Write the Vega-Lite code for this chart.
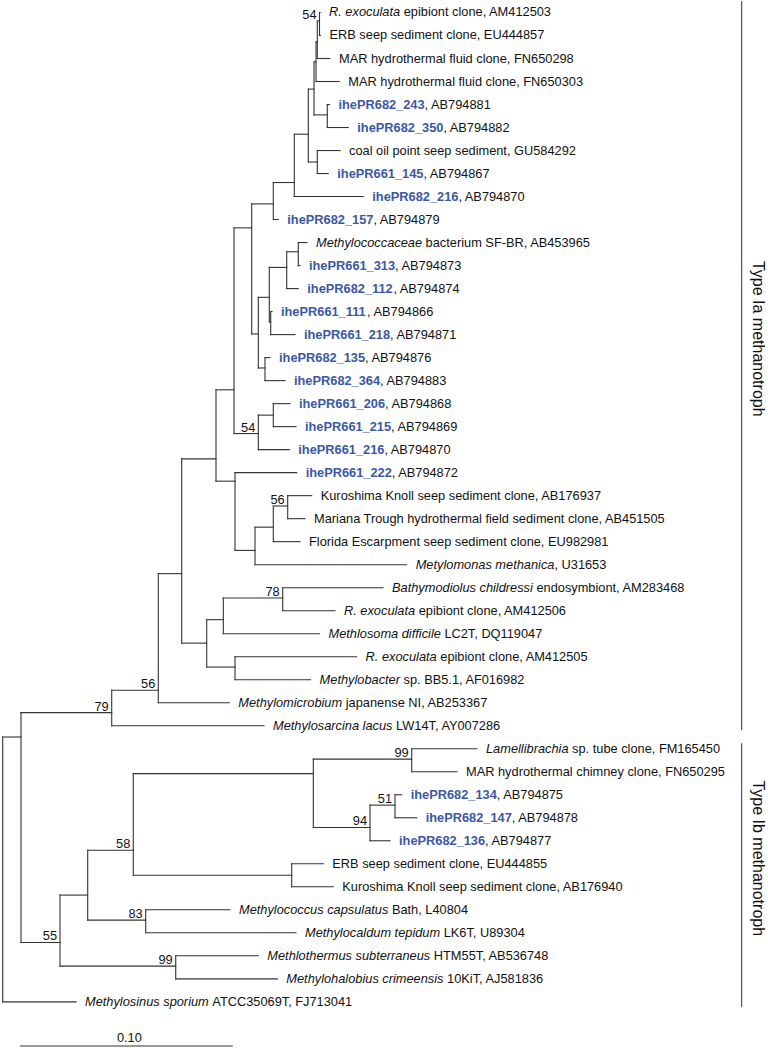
{
"$schema": "https://vega.github.io/schema/vega-lite/v6.json",
"width": 768, "height": 1048,
"autosize": {"type": "fit", "contains": "padding"},
"padding": 0,
"background": "white",
"config": {"view": {"stroke": null}, "text": {"font": "Liberation Sans", "fontSize": 12.8, "color": "#111111"}},
"datasets": {
"tree": [
{"id":"ROOT","parent":null,"x":0,"y":37},
{"id":"L0","parent":"T1","x":0.14918,"y":0,"kind":"italic","a":"R. exoculata","b":"epibiont clone, AM412503"},
{"id":"L1","parent":"T1","x":0.14941,"y":1,"kind":"plain","a":"ERB seep sediment clone, EU444857"},
{"id":"L2","parent":"T2","x":0.15388,"y":2,"kind":"plain","a":"MAR hydrothermal fluid clone, FN650298"},
{"id":"L3","parent":"T3","x":0.15825,"y":3,"kind":"plain","a":"MAR hydrothermal fluid clone, FN650303"},
{"id":"L4","parent":"N243","x":0.15364,"y":4,"kind":"clone","a":"ihePR682_243","b":", AB794881"},
{"id":"L5","parent":"N243","x":0.16248,"y":5,"kind":"clone","a":"ihePR682_350","b":", AB794882"},
{"id":"L6","parent":"Ncoal","x":0.15858,"y":6,"kind":"plain","a":"coal oil point seep sediment, GU584292"},
{"id":"L7","parent":"Ncoal","x":0.15308,"y":7,"kind":"clone","a":"ihePR661_145","b":", AB794867"},
{"id":"L8","parent":"N216","x":0.16954,"y":8,"kind":"clone","a":"ihePR682_216","b":", AB794870"},
{"id":"L9","parent":"N157","x":0.12957,"y":9,"kind":"clone","a":"ihePR682_157","b":", AB794879"},
{"id":"L10","parent":"N10","x":0.14307,"y":10,"kind":"italic","a":"Methylococcaceae","b":"bacterium SF-BR, AB453965"},
{"id":"L11","parent":"N10","x":0.13977,"y":11,"kind":"clone","a":"ihePR661_313","b":", AB794873"},
{"id":"L12","parent":"N12","x":0.13897,"y":12,"kind":"clone","a":"ihePR682_112","b":", AB794874"},
{"id":"L13","parent":"N13","x":0.12661,"y":13,"kind":"clone","a":"ihePR661_111","b":", AB794866"},
{"id":"L14","parent":"N13","x":0.13742,"y":14,"kind":"clone","a":"ihePR661_218","b":", AB794871"},
{"id":"L15","parent":"N15","x":0.12567,"y":15,"kind":"clone","a":"ihePR682_135","b":", AB794876"},
{"id":"L16","parent":"N15","x":0.13272,"y":16,"kind":"clone","a":"ihePR682_364","b":", AB794883"},
{"id":"L17","parent":"N17","x":0.13507,"y":17,"kind":"clone","a":"ihePR661_206","b":", AB794868"},
{"id":"L18","parent":"N17","x":0.13789,"y":18,"kind":"clone","a":"ihePR661_215","b":", AB794869"},
{"id":"L19","parent":"N54","x":0.13474,"y":19,"kind":"clone","a":"ihePR661_216","b":", AB794870"},
{"id":"L20","parent":"NC","x":0.13822,"y":20,"kind":"clone","a":"ihePR661_222","b":", AB794872"},
{"id":"L21","parent":"N56","x":0.14528,"y":21,"kind":"plain","a":"Kuroshima Knoll seep sediment clone, AB176937"},
{"id":"L22","parent":"N56","x":0.14213,"y":22,"kind":"plain","a":"Mariana Trough hydrothermal field sediment clone, AB451505"},
{"id":"L23","parent":"NK2","x":0.13977,"y":23,"kind":"plain","a":"Florida Escarpment seep sediment clone, EU982981"},
{"id":"L24","parent":"NK","x":0.18994,"y":24,"kind":"italic","a":"Metylomonas methanica","b":", U31653"},
{"id":"L25","parent":"N78","x":0.17880,"y":25,"kind":"italic","a":"Bathymodiolus childressi","b":"endosymbiont, AM283468"},
{"id":"L26","parent":"N78","x":0.15623,"y":26,"kind":"italic","a":"R. exoculata","b":"epibiont clone, AM412506"},
{"id":"L27","parent":"NF","x":0.14894,"y":27,"kind":"italic","a":"Methlosoma difficile","b":"LC2T, DQ119047"},
{"id":"L28","parent":"N28","x":0.16638,"y":28,"kind":"italic","a":"R. exoculata","b":"epibiont clone, AM412505"},
{"id":"L29","parent":"N28","x":0.14476,"y":29,"kind":"italic","a":"Methylobacter","b":"sp. BB5.1, AF016982"},
{"id":"L30","parent":"N56b","x":0.10654,"y":30,"kind":"italic","a":"Methylomicrobium","b":"japanense NI, AB253367"},
{"id":"L31","parent":"N79","x":0.12285,"y":31,"kind":"italic","a":"Methylosarcina lacus","b":"LW14T, AY007286"},
{"id":"L32","parent":"N99","x":0.22299,"y":32,"kind":"italic","a":"Lamellibrachia","b":"sp. tube clone, FM165450"},
{"id":"L33","parent":"N99","x":0.21359,"y":33,"kind":"plain","a":"MAR hydrothermal chimney clone, FN650295"},
{"id":"L34","parent":"N51","x":0.18759,"y":34,"kind":"clone","a":"ihePR682_134","b":", AB794875"},
{"id":"L35","parent":"N51","x":0.19464,"y":35,"kind":"clone","a":"ihePR682_147","b":", AB794878"},
{"id":"L36","parent":"N94","x":0.18209,"y":36,"kind":"clone","a":"ihePR682_136","b":", AB794877"},
{"id":"L37","parent":"N37","x":0.15073,"y":37,"kind":"plain","a":"ERB seep sediment clone, EU444855"},
{"id":"L38","parent":"N37","x":0.15543,"y":38,"kind":"plain","a":"Kuroshima Knoll seep sediment clone, AB176940"},
{"id":"L39","parent":"N83","x":0.10686,"y":39,"kind":"italic","a":"Methylococcus capsulatus","b":"Bath, L40804"},
{"id":"L40","parent":"N83","x":0.13789,"y":40,"kind":"italic","a":"Methylocaldum tepidum","b":"LK6T, U89304"},
{"id":"L41","parent":"N99b","x":0.12017,"y":41,"kind":"italic","a":"Methlothermus subterraneus","b":"HTM55T, AB536748"},
{"id":"L42","parent":"N99b","x":0.12910,"y":42,"kind":"italic","a":"Methylohalobius crimeensis","b":"10KiT, AJ581836"},
{"id":"L43","parent":"ROOT","x":0.03446,"y":43,"kind":"italic","a":"Methylosinus sporium","b":"ATCC35069T, FJ713041"},
{"id":"T1","parent":"T2","x":0.14894,"y":0.37,"boot":"54"},
{"id":"T2","parent":"T3","x":0.14791,"y":1.28},
{"id":"T3","parent":"T4","x":0.14730,"y":2.15},
{"id":"N243","parent":"T4","x":0.15261,"y":4.45},
{"id":"T4","parent":"T5","x":0.14636,"y":3.33},
{"id":"Ncoal","parent":"T5","x":0.14791,"y":6.5},
{"id":"T5","parent":"N216","x":0.14368,"y":5.29},
{"id":"N216","parent":"N157","x":0.13709,"y":7.39},
{"id":"N157","parent":"N251","x":0.12722,"y":8.32},
{"id":"N10","parent":"N12","x":0.13897,"y":10.4},
{"id":"N12","parent":"Nb","x":0.13352,"y":11.08},
{"id":"N13","parent":"Nb","x":0.12600,"y":13.45},
{"id":"Nb","parent":"Nmc","x":0.12534,"y":12.38},
{"id":"N15","parent":"Nmc","x":0.12332,"y":15.45},
{"id":"Nmc","parent":"N251","x":0.12017,"y":13.97},
{"id":"N251","parent":"NA","x":0.11707,"y":9.36},
{"id":"N17","parent":"N54","x":0.12722,"y":17.5},
{"id":"N54","parent":"NA","x":0.12017,"y":18.3,"boot":"54"},
{"id":"NA","parent":"NB","x":0.10875,"y":16.4},
{"id":"N56","parent":"NK2","x":0.13399,"y":21.45,"boot":"56"},
{"id":"NK2","parent":"NK","x":0.12722,"y":22.37},
{"id":"NK","parent":"NC","x":0.11862,"y":23.38},
{"id":"NC","parent":"NB","x":0.10922,"y":20.37},
{"id":"NB","parent":"ND","x":0.10028,"y":19.4},
{"id":"N78","parent":"NF","x":0.13164,"y":25.45,"boot":"78"},
{"id":"NF","parent":"NE","x":0.10372,"y":26.39},
{"id":"N28","parent":"NE","x":0.10922,"y":28.45},
{"id":"NE","parent":"ND","x":0.09591,"y":27.41},
{"id":"ND","parent":"N56b","x":0.08416,"y":24.39},
{"id":"N56b","parent":"N79","x":0.07315,"y":29.46,"boot":"56"},
{"id":"N79","parent":"Ntop","x":0.05125,"y":30.43,"boot":"79"},
{"id":"N99","parent":"NP","x":0.19229,"y":32.45,"boot":"99"},
{"id":"N51","parent":"N94","x":0.18444,"y":34.45,"boot":"51"},
{"id":"N94","parent":"NP","x":0.17268,"y":35.42,"boot":"94"},
{"id":"NP","parent":"N58","x":0.14603,"y":33.08},
{"id":"N37","parent":"N58","x":0.13587,"y":37.5},
{"id":"N58","parent":"Nx","x":0.06140,"y":36.41,"boot":"58"},
{"id":"N83","parent":"Nx","x":0.06723,"y":39.45,"boot":"83"},
{"id":"Nx","parent":"N55","x":0.03996,"y":38.36},
{"id":"N99b","parent":"N55","x":0.08134,"y":41.45,"boot":"99"},
{"id":"N55","parent":"Ntop","x":0.02694,"y":40.42,"boot":"55"},
{"id":"Ntop","parent":"ROOT","x":0.00860,"y":31.49}
],
"clades": [
{"clade":"Type Ia methanotroph","x":0.3474,"from":-0.5,"to":31.2,"tx":0.3551,"mid":14.18},
{"clade":"Type Ib methanotroph","x":0.3474,"from":31.76,"to":43.23,"tx":0.3551,"mid":36.76}
],
"scalebar": [
{"x0":0.00813,"x1":0.10813,"y":44.92,"xm":0.05813,"label":"0.10"}
]
},
"layer": [
{"data":{"name":"tree"},
 "transform":[{"filter":"datum.parent != null"},{"lookup":"parent","from":{"data":{"name":"tree"},"key":"id","fields":["x"]},"as":["px"]}],
 "mark":{"type":"rule","color":"#333333","strokeWidth":1.1,"strokeCap":"square"},
 "encoding":{
  "x":{"field":"px","type":"quantitative","scale":{"domain":[-0.00127,0.3598],"nice":false,"zero":false},"axis":null},
  "x2":{"field":"x"},
  "y":{"field":"y","type":"quantitative","scale":{"domain":[-0.4994,45.0065],"reverse":true,"nice":false,"zero":false},"axis":null}}},
{"data":{"name":"tree"},
 "transform":[{"filter":"datum.parent != null"},{"lookup":"parent","from":{"data":{"name":"tree"},"key":"id","fields":["x"]},"as":["px"]},
  {"aggregate":[{"op":"min","field":"y","as":"y0"},{"op":"max","field":"y","as":"y1"}],"groupby":["parent","px"]}],
 "mark":{"type":"rule","color":"#333333","strokeWidth":1.1,"strokeCap":"square"},
 "encoding":{
  "x":{"field":"px","type":"quantitative","scale":{"domain":[-0.00127,0.3598],"nice":false,"zero":false},"axis":null},
  "y":{"field":"y0","type":"quantitative","scale":{"domain":[-0.4994,45.0065],"reverse":true,"nice":false,"zero":false},"axis":null},
  "y2":{"field":"y1"}}},
{"data":{"name":"tree"},
 "transform":[{"filter":"isValid(datum.boot)"}],
 "mark":{"type":"text","align":"right","baseline":"alphabetic","dx":-3,"dy":-2},
 "encoding":{
  "x":{"field":"x","type":"quantitative","scale":{"domain":[-0.00127,0.3598],"nice":false,"zero":false},"axis":null},
  "y":{"field":"y","type":"quantitative","scale":{"domain":[-0.4994,45.0065],"reverse":true,"nice":false,"zero":false},"axis":null},
  "text":{"field":"boot"}}},
{"data":{"name":"tree"},
 "transform":[{"filter":"datum.kind == 'plain'"}],
 "mark":{"type":"text","align":"left","baseline":"middle","dx":9},
 "encoding":{
  "x":{"field":"x","type":"quantitative","axis":null},
  "y":{"field":"y","type":"quantitative","axis":null},
  "text":{"field":"a"}}},
{"data":{"name":"tree"},
 "transform":[{"filter":"datum.kind == 'clone'"}],
 "mark":{"type":"text","align":"left","baseline":"middle","dx":9,"fontWeight":"bold","color":"#3b58a6"},
 "encoding":{
  "x":{"field":"x","type":"quantitative","axis":null},
  "y":{"field":"y","type":"quantitative","axis":null},
  "text":{"field":"a"}}},
{"data":{"name":"tree"},
 "transform":[{"filter":"datum.kind == 'italic'"}],
 "mark":{"type":"text","align":"left","baseline":"middle","dx":9,"fontStyle":"italic"},
 "encoding":{
  "x":{"field":"x","type":"quantitative","axis":null},
  "y":{"field":"y","type":"quantitative","axis":null},
  "text":{"field":"a"}}},
{"data":{"name":"tree"},
 "transform":[{"filter":"datum.kind == 'clone' || datum.a == 'Lamellibrachia'"}],
 "mark":{"type":"text","align":"left","baseline":"middle","dx":95.1},
 "encoding":{"x":{"field":"x","type":"quantitative","axis":null},"y":{"field":"y","type":"quantitative","axis":null},"text":{"field":"b"}}},
{"data":{"name":"tree"},"transform":[{"filter":{"field":"a","oneOf":["R. exoculata"]}}],
 "mark":{"type":"text","align":"left","baseline":"middle","dx":83.7},
 "encoding":{"x":{"field":"x","type":"quantitative","axis":null},"y":{"field":"y","type":"quantitative","axis":null},"text":{"field":"b"}}},
{"data":{"name":"tree"},"transform":[{"filter":{"field":"a","oneOf":["Methylococcaceae"]}}],
 "mark":{"type":"text","align":"left","baseline":"middle","dx":118.6},
 "encoding":{"x":{"field":"x","type":"quantitative","axis":null},"y":{"field":"y","type":"quantitative","axis":null},"text":{"field":"b"}}},
{"data":{"name":"tree"},"transform":[{"filter":{"field":"a","oneOf":["Metylomonas methanica","Methylocaldum tepidum"]}}],
 "mark":{"type":"text","align":"left","baseline":"middle","dx":147.7},
 "encoding":{"x":{"field":"x","type":"quantitative","axis":null},"y":{"field":"y","type":"quantitative","axis":null},"text":{"field":"b"}}},
{"data":{"name":"tree"},"transform":[{"filter":{"field":"a","oneOf":["Bathymodiolus childressi"]}}],
 "mark":{"type":"text","align":"left","baseline":"middle","dx":153.4},
 "encoding":{"x":{"field":"x","type":"quantitative","axis":null},"y":{"field":"y","type":"quantitative","axis":null},"text":{"field":"b"}}},
{"data":{"name":"tree"},"transform":[{"filter":{"field":"a","oneOf":["Methlosoma difficile"]}}],
 "mark":{"type":"text","align":"left","baseline":"middle","dx":124.9},
 "encoding":{"x":{"field":"x","type":"quantitative","axis":null},"y":{"field":"y","type":"quantitative","axis":null},"text":{"field":"b"}}},
{"data":{"name":"tree"},"transform":[{"filter":{"field":"a","oneOf":["Methylobacter"]}}],
 "mark":{"type":"text","align":"left","baseline":"middle","dx":92.9},
 "encoding":{"x":{"field":"x","type":"quantitative","axis":null},"y":{"field":"y","type":"quantitative","axis":null},"text":{"field":"b"}}},
{"data":{"name":"tree"},"transform":[{"filter":{"field":"a","oneOf":["Methylomicrobium"]}}],
 "mark":{"type":"text","align":"left","baseline":"middle","dx":116.4},
 "encoding":{"x":{"field":"x","type":"quantitative","axis":null},"y":{"field":"y","type":"quantitative","axis":null},"text":{"field":"b"}}},
{"data":{"name":"tree"},"transform":[{"filter":{"field":"a","oneOf":["Methylosarcina lacus"]}}],
 "mark":{"type":"text","align":"left","baseline":"middle","dx":132.1},
 "encoding":{"x":{"field":"x","type":"quantitative","axis":null},"y":{"field":"y","type":"quantitative","axis":null},"text":{"field":"b"}}},
{"data":{"name":"tree"},"transform":[{"filter":{"field":"a","oneOf":["Methylococcus capsulatus"]}}],
 "mark":{"type":"text","align":"left","baseline":"middle","dx":161.9},
 "encoding":{"x":{"field":"x","type":"quantitative","axis":null},"y":{"field":"y","type":"quantitative","axis":null},"text":{"field":"b"}}},
{"data":{"name":"tree"},"transform":[{"filter":{"field":"a","oneOf":["Methlothermus subterraneus"]}}],
 "mark":{"type":"text","align":"left","baseline":"middle","dx":175.5},
 "encoding":{"x":{"field":"x","type":"quantitative","axis":null},"y":{"field":"y","type":"quantitative","axis":null},"text":{"field":"b"}}},
{"data":{"name":"tree"},"transform":[{"filter":{"field":"a","oneOf":["Methylohalobius crimeensis"]}}],
 "mark":{"type":"text","align":"left","baseline":"middle","dx":169.8},
 "encoding":{"x":{"field":"x","type":"quantitative","axis":null},"y":{"field":"y","type":"quantitative","axis":null},"text":{"field":"b"}}},
{"data":{"name":"tree"},"transform":[{"filter":{"field":"a","oneOf":["Methylosinus sporium"]}}],
 "mark":{"type":"text","align":"left","baseline":"middle","dx":136.3},
 "encoding":{"x":{"field":"x","type":"quantitative","axis":null},"y":{"field":"y","type":"quantitative","axis":null},"text":{"field":"b"}}},
{"data":{"name":"clades"},
 "mark":{"type":"rule","color":"#555555","strokeWidth":1.2},
 "encoding":{"x":{"field":"x","type":"quantitative","axis":null},"y":{"field":"from","type":"quantitative","axis":null},"y2":{"field":"to"}}},
{"data":{"name":"clades"},
 "mark":{"type":"text","angle":90,"align":"center","baseline":"middle","fontSize":16,"font":"Liberation Sans"},
 "encoding":{"x":{"field":"tx","type":"quantitative","axis":null},"y":{"field":"mid","type":"quantitative","axis":null},"text":{"field":"clade"}}},
{"data":{"name":"scalebar"},
 "mark":{"type":"rule","color":"#333333","strokeWidth":1.1},
 "encoding":{"x":{"field":"x0","type":"quantitative","axis":null},"x2":{"field":"x1"},"y":{"field":"y","type":"quantitative","axis":null}}},
{"data":{"name":"scalebar"},
 "mark":{"type":"text","align":"center","baseline":"alphabetic","dy":-4,"dx":3},
 "encoding":{"x":{"field":"xm","type":"quantitative","axis":null},"y":{"field":"y","type":"quantitative","axis":null},"text":{"field":"label"}}}
]
}
